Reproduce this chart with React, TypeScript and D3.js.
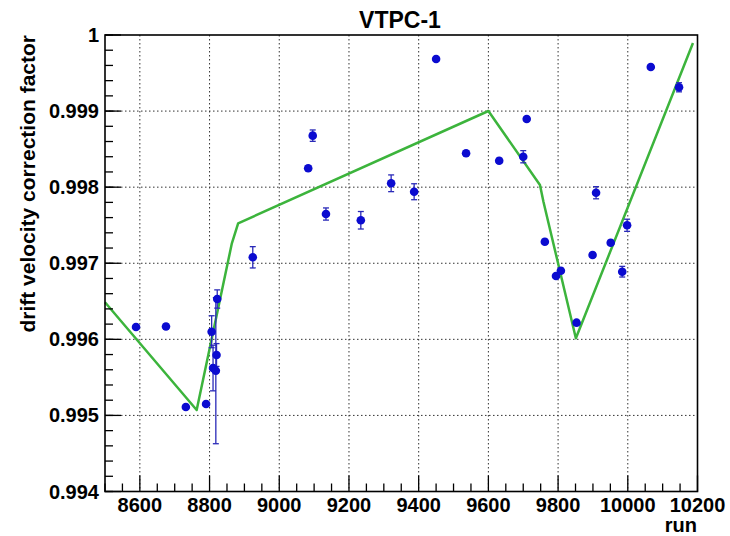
import React from "react";
import * as d3 from "d3";

const runs = [8589, 8675, 8732, 8790, 8806, 8810, 8818, 8820, 8822, 8924, 9083, 9096, 9134, 9234, 9321, 9387, 9450, 9536, 9631, 9700, 9710, 9762, 9794, 9808, 9853, 9899, 9909, 9951, 9984, 9998, 10066, 10147];
const factors = [0.996162, 0.996168, 0.995111, 0.99515, 0.9961, 0.995623, 0.995588, 0.995794, 0.99653, 0.997078, 0.998248, 0.998677, 0.997647, 0.997565, 0.998051, 0.99794, 0.999685, 0.998445, 0.998348, 0.9984, 0.998896, 0.997283, 0.996832, 0.996902, 0.996219, 0.997108, 0.997927, 0.99727, 0.996889, 0.997499, 0.999579, 0.999313];
const errors = [0.00003, 0.00003, 0.00003, 0.00003, 0.00021, 0.0003, 0.00096, 0.00015, 0.00012, 0.00014, 0.00003, 0.000075, 0.00008, 0.000115, 0.00011, 0.000105, 0.00003, 0.00003, 0.00003, 0.00008, 0.00003, 0.00003, 0.00003, 0.00003, 0.00003, 0.00003, 0.00008, 0.00003, 0.00007, 0.00008, 0.00003, 0.00006];

const fitRuns = [8500, 8763, 8864, 8882, 9600, 9748, 9758, 9851, 10187];
const fitValues = [0.996488, 0.995071, 0.997262, 0.997525, 0.999001, 0.998029, 0.997809, 0.996014, 0.999894];

const xTicks = [8600, 8800, 9000, 9200, 9400, 9600, 9800, 10000, 10200];
const yTicks = [0.994, 0.995, 0.996, 0.997, 0.998, 0.999, 1];
const yTickLabels = ["0.994", "0.995", "0.996", "0.997", "0.998", "0.999", "1"];

const title = "VTPC-1";
const xTitle = "run";
const yTitle = "drift velocity correction factor";

export default function App() {
  const W = 730, H = 536;
  const L = 105, R = 697.5, T = 35, B = 491.5;
  const x = d3.scaleLinear().domain([8500, 10200]).range([L, R]);
  const y = d3.scaleLinear().domain([0.994, 1.0]).range([B, T]);
  const font = "'Liberation Sans', Arial, Helvetica, sans-serif";

  const xMinor = d3.range(8500, 10200.1, 50).filter((v) => !xTicks.includes(v));
  const yMinor = d3.range(0, 31).map((i) => 0.994 + i * 0.0002);

  const line = d3
    .line<number>()
    .x((_, i) => x(fitRuns[i]))
    .y((d) => y(d));

  const blue = "#0b0bd0";

  return (
    <svg width={W} height={H} style={{ position: "absolute", left: 0, top: 0 }}>
      <rect x={0} y={0} width={W} height={H} fill="#fff" />
      <text x={400} y={28} textAnchor="middle" fontFamily={font} fontWeight="bold" fontSize={23}>
        {title}
      </text>
      {/* grid */}
      {xTicks.slice(0, -1).map((t) => (
        <line key={"gx" + t} x1={x(t)} x2={x(t)} y1={T} y2={B} stroke="#333" strokeWidth={1} strokeDasharray="1.5,2.5" />
      ))}
      {yTicks.slice(1, -1).map((t) => (
        <line key={"gy" + t} x1={L} x2={R} y1={y(t)} y2={y(t)} stroke="#333" strokeWidth={1} strokeDasharray="1.5,2.5" />
      ))}
      {/* fit line */}
      <path d={line(fitValues) || ""} fill="none" stroke="#3cb43c" strokeWidth={2.5} strokeLinejoin="round" />
      {/* error bars */}
      {runs.map((r, i) => {
        const cx = x(r);
        const y1 = y(factors[i] + errors[i]);
        const y2 = y(factors[i] - errors[i]);
        return (
          <g key={"e" + i} stroke="#2a2ab8" strokeWidth={1.3}>
            <line x1={cx} x2={cx} y1={y1} y2={y2} />
            <line x1={cx - 3} x2={cx + 3} y1={y1} y2={y1} />
            <line x1={cx - 3} x2={cx + 3} y1={y2} y2={y2} />
          </g>
        );
      })}
      {runs.map((r, i) => (
        <circle key={"p" + i} cx={x(r)} cy={y(factors[i])} r={4.3} fill={blue} />
      ))}
      {/* frame */}
      <rect x={L} y={T} width={R - L} height={B - T} fill="none" stroke="#000" strokeWidth={1.6} />
      {/* x ticks */}
      {xTicks.map((t) => (
        <line key={"xt" + t} x1={x(t)} x2={x(t)} y1={B} y2={B - 16} stroke="#000" strokeWidth={1.3} />
      ))}
      {xMinor.map((t) => (
        <line key={"xm" + t} x1={x(t)} x2={x(t)} y1={B} y2={B - 8} stroke="#000" strokeWidth={1.3} />
      ))}
      {xTicks.map((t) => (
        <text key={"xl" + t} x={x(t)} y={512} textAnchor="middle" fontFamily={font} fontWeight="bold" fontSize={20}>
          {t}
        </text>
      ))}
      {/* y ticks */}
      {yTicks.map((t) => (
        <line key={"yt" + t} x1={L} x2={L + 16} y1={y(t)} y2={y(t)} stroke="#000" strokeWidth={1.3} />
      ))}
      {yMinor.map((t, i) => (
        <line key={"ym" + i} x1={L} x2={L + 8} y1={y(t)} y2={y(t)} stroke="#000" strokeWidth={1.3} />
      ))}
      {yTicks.map((t, i) => (
        <text key={"yl" + t} x={99} y={y(t) + 7} textAnchor="end" fontFamily={font} fontWeight="bold" fontSize={20}>
          {yTickLabels[i]}
        </text>
      ))}
      <text x={697} y={532} textAnchor="end" fontFamily={font} fontWeight="bold" fontSize={20}>
        {xTitle}
      </text>
      <text
        transform="translate(35,35) rotate(-90)"
        textAnchor="end"
        fontFamily={font}
        fontWeight="bold"
        fontSize={21}
      >
        {yTitle}
      </text>
    </svg>
  );
}
